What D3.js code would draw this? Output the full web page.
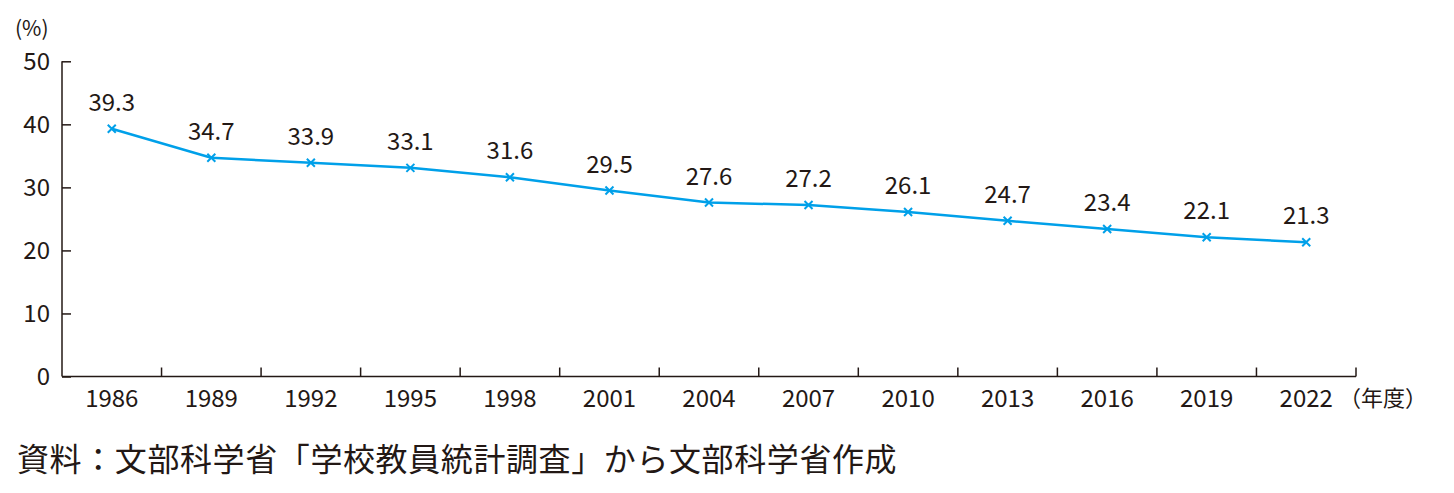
<!DOCTYPE html>
<meta charset="utf-8">
<style>

body {
  margin: 0;
  background: #fff;
}

text {
  font-family: "Noto Sans CJK JP", "Noto Sans", sans-serif;
  fill: #231815;
}

.axis path,
.axis line {
  stroke: #231815;
  stroke-width: 1.5px;
}

.line {
  fill: none;
  stroke: #00a0e9;
  stroke-width: 2.5px;
  stroke-linejoin: round;
}

.mark {
  stroke: #00a0e9;
  stroke-width: 2px;
}

</style>
<svg></svg>
<script src="https://cdn.jsdelivr.net/npm/d3@7"></script>
<script>

var years = ["1986", "1989", "1992", "1995", "1998", "2001", "2004", "2007", "2010", "2013", "2016", "2019", "2022"],
    rates = [39.3, 34.7, 33.9, 33.1, 31.6, 29.5, 27.6, 27.2, 26.1, 24.7, 23.4, 22.1, 21.3],
    yTicks = [0, 10, 20, 30, 40, 50];

var width = 1454,
    height = 493;

var svg = d3.select("svg")
    .attr("width", width)
    .attr("height", height);

var x = d3.scaleBand()
    .domain(years)
    .range([62, 1356]);

var y = d3.scaleLinear()
    .domain([0, 50])
    .range([376.5, 61.3]);

// x axis: ticks between bands, pointing up
var xAxis = svg.append("g")
    .attr("class", "axis")
    .attr("transform", "translate(0," + y(0) + ")");

xAxis.append("path")
    .attr("d", "M" + x.range()[0] + ",0H" + x.range()[1]);

xAxis.selectAll("line")
    .data(years.slice(1).concat(["end"]))
  .enter().append("line")
    .attr("x1", function(d) { return d == "end" ? x.range()[1] : x(d); })
    .attr("x2", function(d) { return d == "end" ? x.range()[1] : x(d); })
    .attr("y1", 0)
    .attr("y2", -9);

xAxis.selectAll("text")
    .data(years)
  .enter().append("text")
    .attr("x", function(d) { return x(d) + x.bandwidth() / 2; })
    .attr("y", 22)
    .attr("dy", "0.35em")
    .attr("text-anchor", "middle")
    .style("font-size", "24px")
    .text(function(d) { return d; });

// y axis
var yAxis = svg.append("g")
    .attr("class", "axis")
    .attr("transform", "translate(" + x.range()[0] + ",0)")
    .call(d3.axisLeft(y).tickValues(yTicks).tickSize(-9).tickSizeOuter(0).tickPadding(12));

yAxis.selectAll("text")
    .style("font-size", "24px")
    .style("font-family", null)
    .attr("dy", "0.35em")
    .attr("fill", null);

yAxis.select(".domain")
    .attr("d", "M0," + y(0) + "V" + y(50));

svg.append("text")
    .attr("x", 15)
    .attr("y", 29)
    .attr("dy", "0.35em")
    .style("font-size", "21px")
    .text("(%)");

svg.append("text")
    .attr("x", 1339)
    .attr("y", 398)
    .attr("dy", "0.35em")
    .style("font-size", "22px")
    .text("（年度）");

// line
var line = d3.line()
    .x(function(d, i) { return x(years[i]) + x.bandwidth() / 2; })
    .y(function(d) { return y(d); });

svg.append("path")
    .datum(rates)
    .attr("class", "line")
    .attr("d", line);

var marks = svg.selectAll(".mark")
    .data(rates)
  .enter().append("path")
    .attr("class", "mark")
    .attr("transform", function(d, i) {
      return "translate(" + (x(years[i]) + x.bandwidth() / 2) + "," + y(d) + ")";
    })
    .attr("d", "M-4,-4L4,4M-4,4L4,-4");

svg.selectAll(".label")
    .data(rates)
  .enter().append("text")
    .attr("class", "label")
    .attr("x", function(d, i) { return x(years[i]) + x.bandwidth() / 2; })
    .attr("y", function(d) { return y(d) - 18; })
    .attr("text-anchor", "middle")
    .style("font-size", "24px")
    .text(function(d) { return d.toFixed(1); });

svg.append("text")
    .attr("x", 17)
    .attr("y", 460)
    .attr("dy", "0.35em")
    .style("font-size", "32px")
    .style("letter-spacing", "0.6px")
    .text("資料：文部科学省「学校教員統計調査」から文部科学省作成");

</script>
